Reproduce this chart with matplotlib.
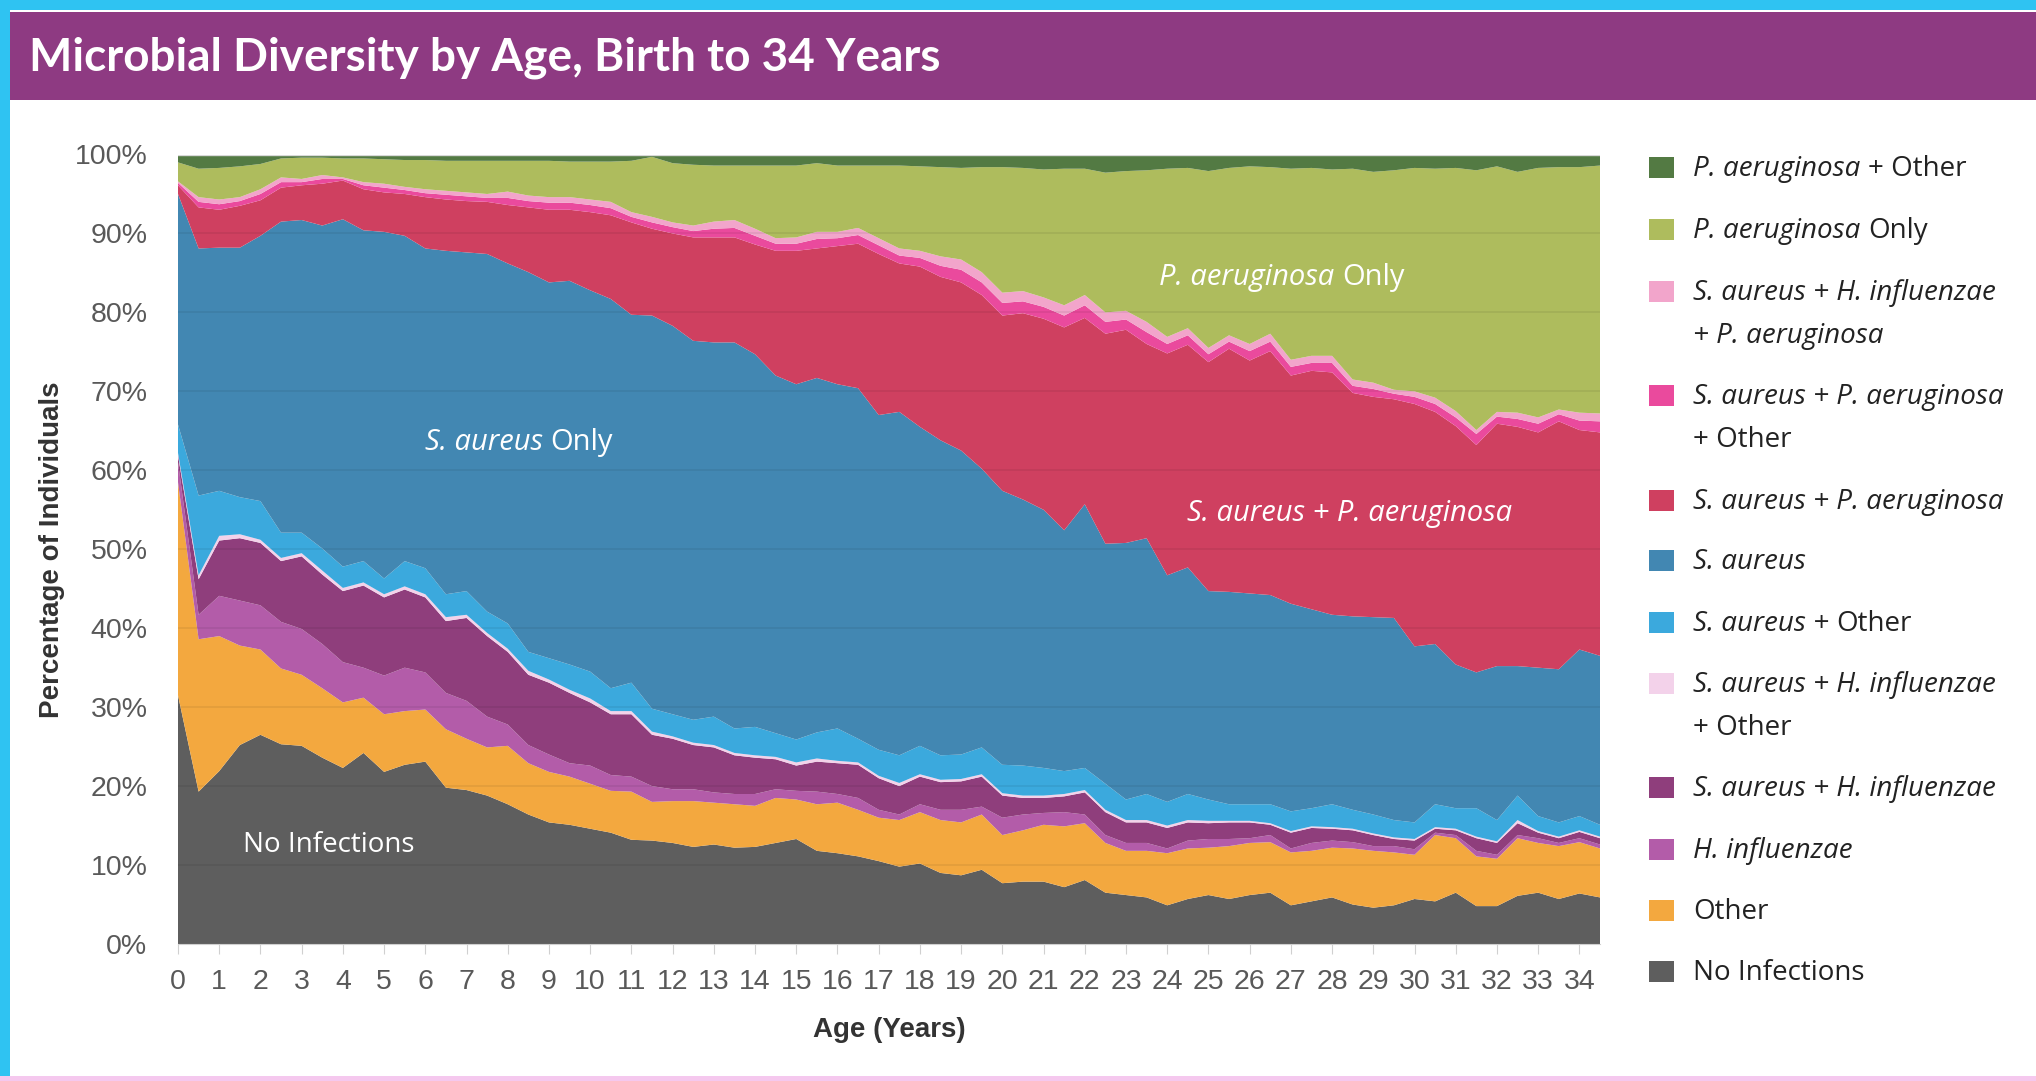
import numpy as np
import matplotlib
matplotlib.use("Agg")
import matplotlib.pyplot as plt
from matplotlib.patches import Rectangle

# age in years, one point every half year
ages = np.arange(0, 35, 0.5)

# percent of individuals per group, bottom of the stack first
no_infections = [31.5, 19.3, 21.9, 25.2, 26.5, 25.3, 25.1, 23.6, 22.3, 24.2,
                 21.8, 22.7, 23.1, 19.8, 19.5, 18.8, 17.7, 16.4, 15.4, 15.1,
                 14.6, 14.1, 13.2, 13.1, 12.8, 12.3, 12.6, 12.2, 12.3, 12.8,
                 13.3, 11.8, 11.5, 11.1, 10.5, 9.8, 10.2, 9.0, 8.7, 9.4,
                 7.7, 7.9, 7.9, 7.2, 8.1, 6.5, 6.2, 5.9, 4.9, 5.7,
                 6.2, 5.7, 6.2, 6.5, 4.9, 5.4, 5.9, 5.0, 4.6, 4.9,
                 5.7, 5.4, 6.5, 4.8, 4.8, 6.1, 6.5, 5.7, 6.4, 5.9]
other = [27.0, 19.3, 17.1, 12.6, 10.8, 9.6, 9.0, 8.8, 8.3, 7.0,
         7.3, 6.8, 6.6, 7.4, 6.5, 6.1, 7.4, 6.5, 6.4, 6.1,
         5.7, 5.3, 6.1, 4.9, 5.3, 5.8, 5.3, 5.5, 5.2, 5.7,
         5.0, 5.9, 6.4, 5.9, 5.5, 5.9, 6.5, 6.7, 6.7, 7.0,
         6.1, 6.5, 7.2, 7.7, 7.2, 6.3, 5.6, 5.9, 6.6, 6.4,
         6.0, 6.7, 6.6, 6.4, 6.7, 6.4, 6.3, 7.1, 7.2, 6.7,
         5.6, 8.4, 6.9, 6.3, 6.0, 7.3, 6.3, 6.7, 6.5, 6.2]
h_influenzae = [2.5, 3.1, 5.1, 5.7, 5.6, 5.9, 5.8, 5.6, 5.1, 3.8,
                4.9, 5.5, 4.7, 4.6, 4.8, 3.9, 2.7, 2.3, 2.2, 1.7,
                2.3, 2.0, 1.9, 2.0, 1.5, 1.5, 1.3, 1.3, 1.5, 1.1,
                1.1, 1.6, 1.1, 1.5, 1.0, 0.7, 1.0, 1.3, 1.6, 1.0,
                2.2, 2.0, 1.5, 1.8, 1.1, 1.0, 1.0, 1.0, 0.6, 1.0,
                1.1, 0.9, 0.6, 0.9, 0.5, 1.0, 0.9, 0.8, 0.6, 0.8,
                0.7, 0.3, 0.4, 0.7, 0.5, 0.4, 0.6, 0.4, 0.5, 0.5]
sa_hi = [0.9, 4.5, 7.0, 7.9, 7.9, 7.7, 9.2, 8.8, 9.0, 10.4,
         9.9, 9.9, 9.5, 9.1, 10.5, 10.2, 9.2, 8.9, 9.1, 8.9,
         8.0, 7.7, 7.9, 6.5, 6.4, 5.6, 5.7, 4.9, 4.6, 3.8,
         3.2, 3.8, 3.9, 4.2, 4.0, 3.6, 3.5, 3.5, 3.6, 3.8,
         2.8, 2.1, 1.9, 2.0, 2.8, 2.9, 2.6, 2.6, 2.6, 2.3,
         2.0, 2.1, 2.0, 1.3, 2.0, 1.9, 1.5, 1.5, 1.4, 0.9,
         1.1, 0.5, 0.6, 1.6, 1.5, 1.5, 0.7, 0.6, 0.8, 0.8]
sa_hi_other = [0.3, 0.5, 0.6, 0.5, 0.4, 0.4, 0.4, 0.5, 0.4, 0.4,
               0.4, 0.4, 0.4, 0.5, 0.4, 0.4, 0.4, 0.5, 0.4, 0.4,
               0.5, 0.4, 0.4, 0.4, 0.3, 0.3, 0.3, 0.3, 0.3, 0.3,
               0.4, 0.4, 0.3, 0.3, 0.3, 0.4, 0.3, 0.3, 0.3, 0.3,
               0.3, 0.3, 0.3, 0.3, 0.3, 0.3, 0.3, 0.3, 0.3, 0.3,
               0.3, 0.2, 0.2, 0.2, 0.2, 0.2, 0.2, 0.2, 0.2, 0.2,
               0.2, 0.2, 0.2, 0.2, 0.2, 0.4, 0.2, 0.2, 0.2, 0.2]
sa_other = [3.6, 10.1, 5.7, 4.7, 4.9, 3.2, 2.6, 2.8, 2.7, 2.7,
            2.0, 3.2, 3.3, 2.9, 3.0, 2.7, 3.2, 2.4, 2.7, 3.2,
            3.4, 2.9, 3.6, 2.9, 2.8, 2.9, 3.6, 3.1, 3.6, 3.0,
            2.9, 3.3, 4.1, 3.0, 3.3, 3.5, 3.6, 3.1, 3.1, 3.4,
            3.6, 3.8, 3.5, 2.9, 2.8, 3.3, 2.6, 3.3, 3.0, 3.3,
            2.7, 2.1, 2.1, 2.4, 2.5, 2.3, 2.9, 2.4, 2.4, 2.2,
            2.1, 2.9, 2.6, 3.6, 2.7, 3.1, 1.9, 1.8, 1.8, 1.5]
s_aureus = [29.2, 31.3, 30.8, 31.6, 33.6, 39.4, 39.6, 40.9, 44.0, 41.9,
            43.9, 41.2, 40.5, 43.5, 42.9, 45.3, 45.6, 48.1, 47.6, 48.6,
            48.3, 49.3, 46.6, 49.8, 49.2, 48.0, 47.4, 48.9, 47.2, 45.3,
            45.0, 44.9, 43.6, 44.4, 42.4, 43.5, 40.4, 39.9, 38.5, 35.3,
            34.7, 33.7, 32.7, 30.5, 33.4, 30.4, 32.5, 32.4, 28.7, 28.7,
            26.4, 26.9, 26.7, 26.5, 26.3, 25.2, 24.0, 24.5, 25.0, 25.6,
            22.3, 20.3, 18.2, 17.2, 19.5, 16.4, 18.8, 19.4, 21.1, 21.4]
sa_pa = [1.1, 5.2, 4.8, 5.3, 4.5, 4.3, 4.4, 5.3, 4.9, 5.2,
         5.0, 5.3, 6.5, 6.5, 6.5, 6.6, 7.4, 8.2, 9.2, 9.0,
         9.9, 10.6, 11.7, 11.0, 11.7, 13.1, 13.3, 13.3, 13.9, 15.8,
         16.9, 16.4, 17.5, 18.3, 20.4, 18.8, 20.3, 20.7, 21.3, 22.0,
         22.2, 23.6, 24.2, 25.7, 23.6, 26.6, 27.0, 24.6, 28.1, 28.2,
         29.0, 30.8, 29.5, 30.9, 28.9, 30.2, 30.7, 28.3, 27.9, 27.7,
         30.7, 29.4, 30.2, 28.8, 30.7, 30.3, 29.8, 31.4, 27.8, 28.3]
sa_pa_other = [0.3, 0.7, 0.7, 0.6, 0.8, 0.7, 0.4, 0.6, 0.2, 0.5,
               0.6, 0.5, 0.5, 0.6, 0.6, 0.5, 0.9, 0.8, 0.9, 0.9,
               0.9, 0.9, 0.7, 0.8, 0.8, 0.8, 1.1, 1.2, 1.1, 0.9,
               0.9, 1.2, 1.0, 1.1, 1.1, 1.0, 1.1, 1.4, 1.6, 1.6,
               1.6, 1.5, 1.5, 1.5, 1.6, 1.5, 1.3, 1.5, 1.2, 1.2,
               1.0, 0.9, 1.2, 1.2, 1.1, 1.0, 1.2, 0.9, 1.0, 0.7,
               0.9, 1.0, 1.1, 1.4, 0.9, 1.0, 1.1, 0.9, 1.2, 1.4]
sa_hi_pa = [0.2, 0.6, 0.6, 0.5, 0.6, 0.6, 0.4, 0.5, 0.2, 0.4,
            0.5, 0.4, 0.5, 0.5, 0.5, 0.5, 0.8, 0.7, 0.7, 0.7,
            0.7, 0.8, 0.6, 0.7, 0.6, 0.7, 0.9, 1.0, 0.9, 0.7,
            0.8, 0.9, 0.8, 0.9, 0.9, 0.9, 0.9, 1.2, 1.3, 1.3,
            1.3, 1.3, 1.2, 1.3, 1.3, 1.2, 1.1, 1.3, 0.9, 0.9,
            0.8, 0.8, 0.9, 1.0, 0.9, 0.9, 0.9, 0.8, 0.8, 0.5,
            0.7, 0.8, 0.8, 0.5, 0.6, 0.8, 0.8, 0.6, 1.0, 1.0]
pa_only = [2.4, 3.6, 4.0, 3.9, 3.2, 2.4, 2.7, 2.2, 2.4, 3.0,
           3.1, 3.4, 3.7, 3.8, 4.0, 4.2, 3.9, 4.4, 4.6, 4.5,
           4.8, 5.1, 6.5, 7.6, 7.5, 7.7, 7.1, 6.9, 8.0, 9.2,
           9.1, 8.7, 8.4, 7.9, 9.2, 10.5, 10.7, 11.3, 11.6, 13.3,
           15.9, 15.6, 16.2, 17.3, 16.0, 17.7, 17.7, 19.2, 21.3, 20.3,
           22.4, 21.2, 22.5, 21.1, 24.2, 23.8, 23.6, 26.7, 26.7, 27.8,
           28.3, 29.0, 30.8, 32.9, 31.1, 30.5, 31.6, 30.7, 31.1, 31.4]
pa_other = [1.0, 1.8, 1.7, 1.5, 1.2, 0.5, 0.4, 0.4, 0.5, 0.5,
            0.6, 0.7, 0.7, 0.8, 0.8, 0.8, 0.8, 0.8, 0.8, 0.9,
            0.9, 0.9, 0.8, 0.3, 1.1, 1.3, 1.4, 1.4, 1.4, 1.4,
            1.4, 1.1, 1.4, 1.4, 1.4, 1.4, 1.5, 1.6, 1.7, 1.6,
            1.6, 1.7, 1.9, 1.8, 1.8, 2.3, 2.1, 2.0, 1.8, 1.7,
            2.1, 1.7, 1.5, 1.6, 1.8, 1.7, 1.9, 1.8, 2.2, 2.0,
            1.7, 1.8, 1.7, 2.0, 1.5, 2.2, 1.7, 1.6, 1.6, 1.4]

series = [no_infections, other, h_influenzae, sa_hi, sa_hi_other, sa_other,
          s_aureus, sa_pa, sa_pa_other, sa_hi_pa, pa_only, pa_other]
colors = ['#5e5e5e', '#f3a83f', '#b35ca9', '#8f3e7c', '#f3d2ea', '#3ba9dd',
          '#4287b2', '#cf4060', '#ea4a9d', '#f2a5cb', '#aebc5d', '#537a43']

# legend text, top entry first: list of lines, each a list of (text, style)
IT, RM = 'italic', 'normal'
legend_entries = [
    [[('P. aeruginosa', IT), ('+ Other', RM)]],
    [[('P. aeruginosa', IT), ('Only', RM)]],
    [[('S. aureus + H. influenzae', IT)], [('+ P. aeruginosa', IT)]],
    [[('S. aureus + P. aeruginosa', IT)], [('+ Other', RM)]],
    [[('S. aureus + P. aeruginosa', IT)]],
    [[('S. aureus', IT)]],
    [[('S. aureus +', IT), ('Other', RM)]],
    [[('S. aureus + H. influenzae', IT)], [('+ Other', RM)]],
    [[('S. aureus + H. influenzae', IT)]],
    [[('H. influenzae', IT)]],
    [[('Other', RM)]],
    [[('No Infections', RM)]],
]
legend_y = [167, 229, 291, 395, 500, 560, 622, 683, 787, 849, 910, 971]

W, H = 2036, 1081
fig = plt.figure(figsize=(W / 100, H / 100), dpi=100)
fig.patch.set_facecolor('white')
renderer = fig.canvas.get_renderer()


def fx(x):
    return x / W


def fy(y):
    return 1 - y / H


def rich_text(x, y, parts, size, family, center=False, color='black'):
    # parts of one line drawn side by side, joined by a space
    gap = 0.27 * size * 100 / 72 / W
    texts, widths = [], []
    for s, st in parts:
        t = fig.text(0, fy(y), s, style=st, fontsize=size, family=family,
                     color=color, ha='left', va='baseline', zorder=10)
        texts.append(t)
        widths.append(t.get_window_extent(renderer).width / W)
    total = sum(widths) + gap * (len(parts) - 1)
    start = fx(x) - total / 2 if center else fx(x)
    for t, w in zip(texts, widths):
        t.set_x(start)
        start += w + gap


# frame and header band
fig.add_artist(Rectangle((0, 0), 1, 1, transform=fig.transFigure,
                         facecolor='#2fc3f2', edgecolor='none', zorder=0))
fig.add_artist(Rectangle((fx(10), 0), 1, fy(10), transform=fig.transFigure,
                         facecolor='white', edgecolor='none', zorder=0))
fig.add_artist(Rectangle((0, 0), 1, 5 / H, transform=fig.transFigure,
                         facecolor='#f5c8ee', edgecolor='none', zorder=0))
fig.add_artist(Rectangle((fx(10), fy(100)), 1, 88 / H, transform=fig.transFigure,
                         facecolor='#8e3a82', edgecolor='none', zorder=1))
fig.text(fx(29), fy(58), 'Microbial Diversity by Age, Birth to 34 Years',
         color='white', fontsize=33, fontweight='bold', family='Lato',
         ha='left', va='center', zorder=5)

ax = fig.add_axes([fx(178), fy(944), (1600 - 178) / W, (944 - 154.5) / H])
ax.stackplot(ages, *series, colors=colors, linewidth=0, zorder=2)
ax.set_xlim(0, 34.5)
ax.set_ylim(0, 100)

for v in range(10, 100, 10):
    ax.axhline(v, color='black', alpha=0.07, lw=1.2, zorder=3)
ax.axhline(100, color='#d9d9d9', lw=1, zorder=3)

tick_font = ['Liberation Sans', 'DejaVu Sans']
ax.set_xticks(range(0, 35))
ax.set_xticklabels([str(i) for i in range(0, 35)], family=tick_font,
                   fontsize=20.5, color='#595959')
ax.set_yticks(range(0, 101, 10))
ax.set_yticklabels([f'{v}%' for v in range(0, 101, 10)], family=tick_font,
                   fontsize=20.5, color='#595959')
ax.tick_params(axis='x', length=7, color='#d0d0d0', pad=11)
ax.tick_params(axis='y', length=0, pad=22)
for side in ['top', 'right', 'left']:
    ax.spines[side].set_visible(False)
ax.spines['bottom'].set_color('#d0d0d0')

fig.text(fx(52), fy(550), 'Percentage of Individuals', rotation=90,
         fontsize=20, fontweight='bold', family=tick_font, color='#333333',
         ha='center', va='center')
fig.text(fx(889), fy(1030), 'Age (Years)', fontsize=20, fontweight='bold',
         family=tick_font, color='#333333', ha='center', va='center')

# labels inside the areas
label_font = ['Open Sans', 'DejaVu Sans']
rich_text(519, 450, [('S. aureus', IT), ('Only', RM)], 21, label_font,
          center=True, color='white')
rich_text(329, 852, [('No Infections', RM)], 20, label_font,
          center=True, color='white')
rich_text(1282, 285, [('P. aeruginosa', IT), ('Only', RM)], 21, label_font,
          center=True, color='white')
rich_text(1350, 521, [('S. aureus + P. aeruginosa', IT)], 21, label_font,
          center=True, color='white')

# legend
legend_font = ['Open Sans', 'DejaVu Sans']
for entry, y, c in zip(legend_entries, legend_y, colors[::-1]):
    fig.add_artist(Rectangle((fx(1649), fy(y + 11)), 25 / W, 21 / H,
                             transform=fig.transFigure, facecolor=c,
                             edgecolor='none'))
    for k, line in enumerate(entry):
        rich_text(1693, y + 9 + 43 * k, line, 20, legend_font,
                  color='#222222')

fig.savefig('out.png', dpi=100)
